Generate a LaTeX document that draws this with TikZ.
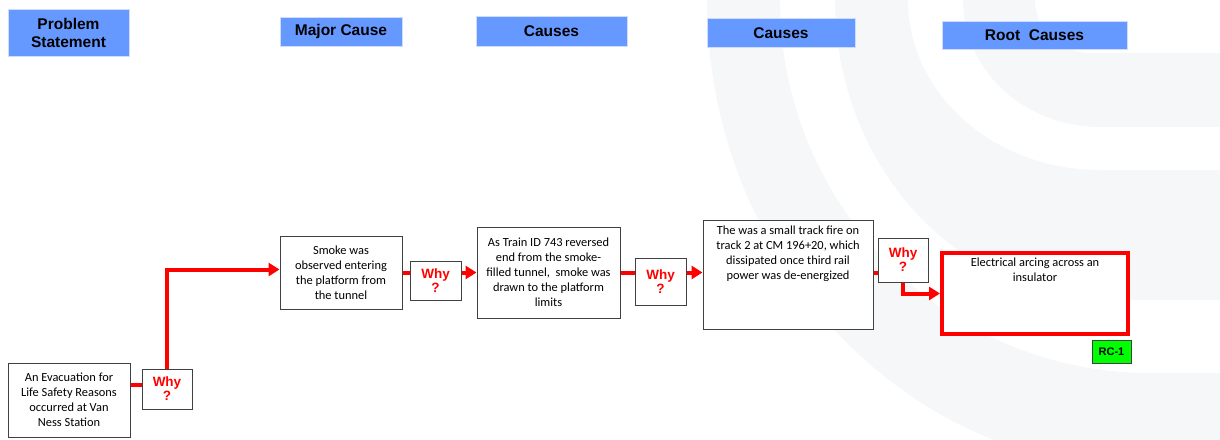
\documentclass[tikz,border=0pt]{standalone}
\usepackage{fontspec}
\setmainfont{Carlito}
\newfontfamily\arialfont{Liberation Sans}
\usetikzlibrary{positioning, arrows.meta, calc}

\definecolor{hdblue}{RGB}{102,153,255}
\definecolor{hdedge}{RGB}{205,220,255}
\definecolor{boxedge}{RGB}{64,64,64}
\definecolor{wmark}{RGB}{246,247,249}
\definecolor{rcgreen}{RGB}{0,255,0}

\newcommand{\toplines}[3]{\parbox[c][#1][t]{#2}{\centering #3}}

\begin{document}
\begin{tikzpicture}[x=1pt, y=-1pt,
  header/.style={fill=hdblue, draw=hdedge, line width=0.8pt, inner sep=0pt,
    font=\arialfont\bfseries\fontsize{15.5}{18}\selectfont, align=center},
  txtbox/.style={draw=boxedge, line width=1pt, fill=white, inner sep=1pt,
    font=\fontsize{12.4}{15}\selectfont, align=center},
  whybox/.style={draw=boxedge, line width=1pt, fill=white, inner sep=0pt, text=red,
    font=\arialfont\bfseries\fontsize{13.5}{14}\selectfont, align=center},
  rootbox/.style={draw=red, line width=4pt, fill=white, inner sep=0pt,
    font=\fontsize{12.4}{15}\selectfont},
  rcbox/.style={draw=boxedge, line width=0.8pt, fill=rcgreen, inner sep=0pt,
    font=\arialfont\bfseries\fontsize{11}{12}\selectfont},
  link/.style={red, line width=4pt},
  linkarr/.style={link, -{Triangle[length=11pt, width=13pt]}}]
\useasboundingbox (0,0) rectangle (1220,439);

% faint watermark
\begin{scope}
\clip (0,0) rectangle (1220,439);
\fill[wmark] (963,0) .. controls (963,70) and (1024,127) .. (1100,127) -- (1220,127)
  -- (1220,53) -- (1090,53) .. controls (1060,53) and (1035,29) .. (1035,0) -- cycle;
\fill[wmark] (835,0) .. controls (835,166) and (958,300) .. (1110,300) -- (1220,300)
  -- (1220,170) -- (1100,170) .. controls (994,170) and (908,94) .. (908,0) -- cycle;
\fill[wmark] (707,0) .. controls (707,260) and (905,470) .. (1150,470) -- (1220,470)
  -- (1220,373) -- (1150,373) .. controls (946,373) and (780,206) .. (780,0) -- cycle;
\end{scope}

% column headers
\node[header, minimum width=121pt, minimum height=47pt] (hdprob) at (68.5,32.5) {Problem\\Statement};
\node[header, minimum width=122pt, minimum height=29pt] (hdmajor) at (341,31.5) {Major Cause};
\node[header, minimum width=151pt, minimum height=30pt] (hdcausea) at (551.5,31) {Causes};
\node[header, minimum width=148pt, minimum height=29pt] (hdcauseb) at (781,33) {Causes};
\node[header, minimum width=185pt, minimum height=28pt] (hdroot) at (1034.5,35) {Root~ Causes};

% statement and causes
\node[txtbox, minimum width=122pt, minimum height=74pt] (prob) at (69,400)
  {An Evacuation for\\Life Safety Reasons\\occurred at Van\\Ness Station};
\node[txtbox, minimum width=122pt, minimum height=73pt] (smoke) at (341,272.5)
  {Smoke was\\observed entering\\the platform from\\the tunnel};
\node[txtbox, minimum width=143pt, minimum height=91pt] (train) at (548.5,272.5)
  {As Train ID 743 reversed\\end from the smoke-\\filled tunnel,~ smoke was\\drawn to the platform\\limits};
\node[txtbox, inner xsep=2pt, inner ysep=6pt] (fire) at (788,274.5)
  {\toplines{97pt}{166pt}{The was a small track fire on\\track 2 at CM 196+20, which\\dissipated once third rail\\power was de-energized}};
\node[rootbox] (root) at (1035,293.5)
  {\toplines{81pt}{186pt}{\vspace{5pt}Electrical arcing across an\\insulator}};
\node[rcbox, minimum width=39pt, minimum height=23pt] (rc1) at (1111.5,351.5) {RC-1};

% why boxes
\node[whybox, minimum width=50pt, minimum height=40pt] (why1) at (167,389) {Why\\?};
\node[whybox, minimum width=51pt, minimum height=39pt] (why2) at (435.5,280.5) {Why\\?};
\node[whybox, minimum width=51pt, minimum height=47pt] (why3) at (660.5,281.5) {Why\\?};
\node[whybox, minimum width=50pt, minimum height=44pt] (why4) at (903,260) {Why\\?};

% links
\draw[link] ($(prob.east |- why1.west)+(0,-4)$) -- ($(why1.west)+(0,-4)$);
\draw[linkarr] (why1.north) |- ($(smoke.west)+(0,-3)$);
\draw[link] (smoke.east) -- (smoke.east -| why2.west);
\draw[linkarr] (why2.east |- train.west) -- (train.west);
\draw[link] (train.east) -- (train.east -| why3.west);
\draw[linkarr] (why3.east |- train.east) -- (fire.west |- train.east);
\draw[link] ($(fire.east)+(0,-2)$) -- ($(fire.east -| why4.west)+(0,-2)$);
\draw[linkarr] (why4.south) |- (root.west);
\end{tikzpicture}
\end{document}
